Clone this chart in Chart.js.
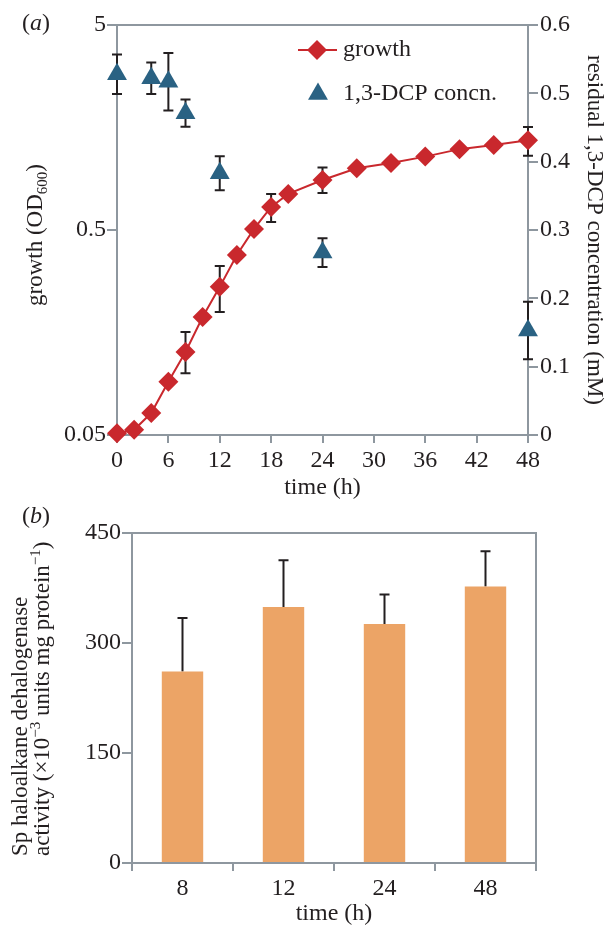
<!DOCTYPE html>
<html>
<head>
<meta charset="utf-8">
<title>growth and 1,3-DCP</title>
<script src="https://cdn.jsdelivr.net/npm/chart.js@4.4.1/dist/chart.umd.min.js"></script>
<style>
  body { margin: 0; background: #fff; }
  #wrap { position: relative; width: 609px; height: 926px; }
  canvas { position: absolute; left: 0; }
</style>
</head>
<body>
<div id="wrap">
  <canvas id="growthChart" width="609" height="500" style="top:0"></canvas>
  <canvas id="activityChart" width="609" height="426" style="top:500px"></canvas>
</div>
<script>
// panel (a) data
const hours = [0, 2, 4, 6, 8, 10, 12, 14, 16, 18, 20, 24, 28, 32, 36, 40, 44, 48];
const growth = [0.051, 0.053, 0.064, 0.091, 0.127, 0.188, 0.264, 0.378, 0.506, 0.648, 0.75, 0.877, 1.0, 1.06, 1.14, 1.24, 1.3, 1.37];
const growthErrHours = [8, 12, 18, 24, 48];
const growthErrLow = [0.100, 0.199, 0.547, 0.758, 1.15];
const growthErrHigh = [0.159, 0.334, 0.750, 1.01, 1.59];
const growthTicks = [0.05, 0.5, 5];

const dcpHours = [0, 4, 6, 8, 12, 24, 48];
const dcpConc = [0.528, 0.522, 0.517, 0.471, 0.383, 0.267, 0.153];
const dcpErr = [0.029, 0.023, 0.042, 0.020, 0.025, 0.021, 0.042];

// panel (b) data
const activityHours = ['8', '12', '24', '48'];
const activity = [261, 349, 326, 377];
const activityErrTop = [334, 413, 366, 425];

const FONT = '"Liberation Serif", "Times New Roman", serif';
const INK = '#231f20';
const AXIS = '#8e979f';
const RED = '#c9282d';
const TEAL = '#2a6283';
const ORANGE = '#eca466';

// text with sub/superscripts, optionally rotated
function drawRich(ctx, x, y, angle, parts, align, size) {
    size = size || 23;
    ctx.save();
    ctx.translate(x, y);
    ctx.rotate(angle);
    const big = size + 'px ' + FONT, small = Math.round(size * 0.66) + 'px ' + FONT;
    let w = 0;
    parts.forEach(p => {
        ctx.font = p[2] || (p[1] ? small : big);
        w += ctx.measureText(p[0]).width;
    });
    let cx = align === 'center' ? -w / 2 : 0;
    ctx.textAlign = 'left';
    ctx.textBaseline = 'alphabetic';
    ctx.fillStyle = INK;
    parts.forEach(p => {
        ctx.font = p[2] || (p[1] ? small : big);
        const dy = p[1] === 'sub' ? 5 : (p[1] === 'sup' ? -9 : 0);
        ctx.fillText(p[0], cx, dy);
        cx += ctx.measureText(p[0]).width;
    });
    ctx.restore();
}

function diamond(ctx, x, y, r) {
    ctx.beginPath();
    ctx.moveTo(x - r, y); ctx.lineTo(x, y - r); ctx.lineTo(x + r, y); ctx.lineTo(x, y + r);
    ctx.closePath(); ctx.fill();
}
function triangle(ctx, x, y, r) {
    ctx.beginPath();
    ctx.moveTo(x, y - r);
    ctx.lineTo(x + Math.sin(2 * Math.PI / 3) * r, y + r / 2);
    ctx.lineTo(x - Math.sin(2 * Math.PI / 3) * r, y + r / 2);
    ctx.closePath(); ctx.fill();
}

// error bars drawn through the chart's scales
const errorBars = {
    id: 'errorBars',
    beforeDatasetsDraw(chart, args, opts) {
        const ctx = chart.ctx;
        ctx.save();
        ctx.strokeStyle = INK;
        ctx.lineWidth = 2;
        opts.sets.forEach(set => {
            const xs = chart.scales[set.xAxis], ys = chart.scales[set.yAxis];
            set.x.forEach((xv, i) => {
                const px = xs.getPixelForValue(xv);
                const top = ys.getPixelForValue(set.hi[i]);
                const bot = ys.getPixelForValue(set.lo[i]);
                ctx.beginPath();
                ctx.moveTo(px, bot); ctx.lineTo(px, top);
                ctx.moveTo(px - 5, top); ctx.lineTo(px + 5, top);
                if (set.lowCap) { ctx.moveTo(px - 5, bot); ctx.lineTo(px + 5, bot); }
                ctx.stroke();
            });
        });
        ctx.restore();
    }
};

const tickFont = { family: FONT, size: 24 };

const growthChart = new Chart(document.getElementById('growthChart'), {
    type: 'line',
    data: {
        datasets: [{
            label: 'growth',
            data: hours.map((h, i) => ({ x: h, y: growth[i] })),
            yAxisID: 'yGrowth',
            borderColor: RED,
            borderWidth: 2,
            backgroundColor: RED,
            pointStyle: 'rectRot',
            pointRadius: 10,
            pointBorderWidth: 0,
            tension: 0,
            clip: false
        }, {
            label: '1,3-DCP concn.',
            data: dcpHours.map((h, i) => ({ x: h, y: dcpConc[i] })),
            yAxisID: 'yDcp',
            showLine: false,
            backgroundColor: TEAL,
            borderColor: TEAL,
            pointStyle: 'triangle',
            pointRadius: 11.5,
            pointBorderWidth: 0,
            clip: false
        }]
    },
    options: {
        responsive: false,
        animation: false,
        events: [],
        layout: { padding: { top: 25 } },
        scales: {
            x: {
                type: 'linear', min: 0, max: 48,
                afterFit: s => { s.height = 65; },
                ticks: { stepSize: 6, padding: 3, color: INK, font: tickFont },
                grid: { drawOnChartArea: false, tickLength: 8, color: AXIS, lineWidth: 2 },
                border: { color: AXIS, width: 2 }
            },
            yGrowth: {
                type: 'logarithmic', position: 'left', min: 0.05, max: 5,
                afterFit: s => { s.width = 117; },
                afterBuildTicks: s => { s.ticks = growthTicks.map(v => ({ value: v })); },
                ticks: { callback: v => String(v), padding: 1, color: INK, font: tickFont },
                grid: { drawOnChartArea: false, tickLength: 10, color: AXIS, lineWidth: 2 },
                border: { color: AXIS, width: 2 }
            },
            yDcp: {
                type: 'linear', position: 'right', min: 0, max: 0.6,
                afterFit: s => { s.width = 81; },
                ticks: { stepSize: 0.1, padding: 2, color: INK, font: tickFont,
                    callback: v => v === 0 ? '0' : (Math.round(v * 10) / 10).toFixed(1) },
                grid: { drawOnChartArea: false, tickLength: 10, color: AXIS, lineWidth: 2 },
                border: { color: AXIS, width: 2 }
            }
        },
        plugins: {
            legend: { display: false },
            tooltip: { enabled: false },
            errorBars: {
                sets: [
                    { xAxis: 'x', yAxis: 'yGrowth', x: growthErrHours, lo: growthErrLow, hi: growthErrHigh, lowCap: true },
                    { xAxis: 'x', yAxis: 'yDcp', x: dcpHours,
                      lo: dcpConc.map((v, i) => v - dcpErr[i]), hi: dcpConc.map((v, i) => v + dcpErr[i]), lowCap: true }
                ]
            }
        }
    },
    plugins: [errorBars, {
        id: 'panelA',
        afterDraw(chart) {
            const ctx = chart.ctx, a = chart.chartArea;
            // top frame line
            ctx.save();
            ctx.strokeStyle = AXIS; ctx.lineWidth = 2;
            ctx.beginPath(); ctx.moveTo(a.left, a.top); ctx.lineTo(a.right, a.top); ctx.stroke();
            // legend
            ctx.strokeStyle = RED; ctx.fillStyle = RED;
            ctx.beginPath(); ctx.moveTo(298, 50); ctx.lineTo(337, 50); ctx.stroke();
            diamond(ctx, 317, 50, 10);
            ctx.fillStyle = TEAL;
            triangle(ctx, 318, 94, 11.5);
            ctx.restore();
            drawRich(ctx, 343, 56, 0, [['growth']], 'left', 24);
            drawRich(ctx, 343, 100, 0, [['1,3-DCP concn.']], 'left', 24);
            // titles
            drawRich(ctx, 22, 30, 0, [['('], ['a', '', 'italic 24px ' + FONT], [')']], 'left', 24);
            drawRich(ctx, 42, 235, -Math.PI / 2, [['growth (OD'], ['600', 'sub'], [')']], 'center');
            drawRich(ctx, 588, 230, Math.PI / 2, [['residual 1,3-DCP concentration (mM)']], 'center');
            drawRich(ctx, (a.left + a.right) / 2, 494, 0, [['time (h)']], 'center', 24);
        }
    }]
});

const activityChart = new Chart(document.getElementById('activityChart'), {
    type: 'bar',
    data: {
        labels: activityHours,
        datasets: [{
            label: 'activity',
            data: activity,
            backgroundColor: ORANGE,
            borderWidth: 0,
            barPercentage: 0.41,
            categoryPercentage: 1.0
        }]
    },
    options: {
        responsive: false,
        animation: false,
        events: [],
        layout: { padding: { top: 33, right: 73 } },
        scales: {
            x: {
                afterFit: s => { s.height = 63; },
                ticks: { padding: 3, color: INK, font: tickFont },
                grid: { offset: true, drawOnChartArea: false, tickLength: 8, color: AXIS, lineWidth: 2 },
                border: { color: AXIS, width: 2 }
            },
            y: {
                min: 0, max: 450,
                afterFit: s => { s.width = 132; },
                ticks: { stepSize: 150, padding: 1, color: INK, font: tickFont },
                grid: { drawOnChartArea: false, tickLength: 10, color: AXIS, lineWidth: 2 },
                border: { color: AXIS, width: 2 }
            }
        },
        plugins: {
            legend: { display: false },
            tooltip: { enabled: false },
            errorBars: {
                sets: [{ xAxis: 'x', yAxis: 'y', x: activityHours.map((h, i) => i), lo: activity, hi: activityErrTop, lowCap: false }]
            }
        }
    },
    plugins: [errorBars, {
        id: 'panelB',
        afterDraw(chart) {
            const ctx = chart.ctx, a = chart.chartArea;
            ctx.save();
            ctx.strokeStyle = AXIS; ctx.lineWidth = 2;
            ctx.beginPath();
            ctx.moveTo(a.left, a.top); ctx.lineTo(a.right, a.top); ctx.lineTo(a.right, a.bottom);
            ctx.stroke();
            ctx.restore();
            drawRich(ctx, 22, 23, 0, [['('], ['b', '', 'italic 24px ' + FONT], [')']], 'left', 24);
            drawRich(ctx, 27, 356, -Math.PI / 2, [['Sp haloalkane dehalogenase']], 'left');
            drawRich(ctx, 49, 356, -Math.PI / 2,
                [['activity (×10'], ['−3', 'sup'], [' units mg protein'], ['−1', 'sup'], [')']], 'left');
            drawRich(ctx, (a.left + a.right) / 2, 420, 0, [['time (h)']], 'center', 24);
        }
    }]
});
</script>
</body>
</html>
